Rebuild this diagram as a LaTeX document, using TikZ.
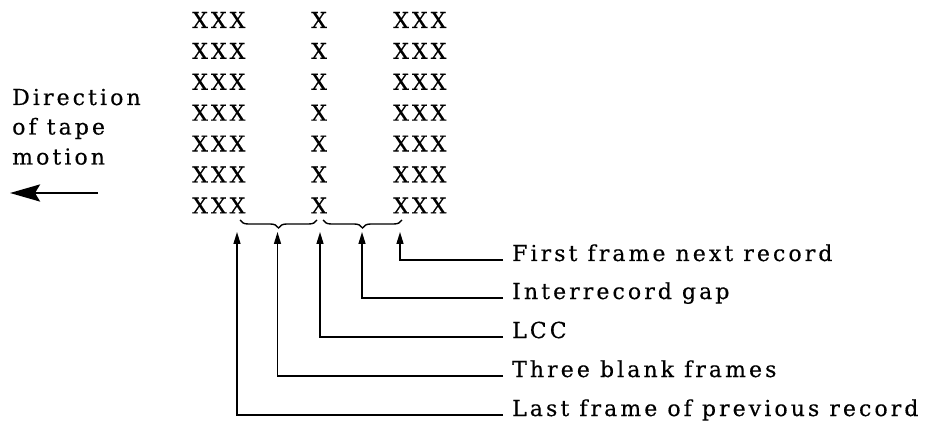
\documentclass[tikz,border=0pt]{standalone}
\usepackage{fontspec}
\setmainfont{DejaVu Serif}[LetterSpace=14,FakeBold=0.4]
\usetikzlibrary{arrows.meta,decorations.pathreplacing}
\newcommand\lbfont{\fontsize{22}{26}\selectfont}
\begin{document}
\begin{tikzpicture}[x=1pt,y=-1pt,
  lbl/.style={inner sep=0pt, anchor=base west, font=\lbfont},
  xs/.style={inner sep=0pt, anchor=base west, font=\lbfont},
  conn/.style={line width=1.4pt, -{Triangle[length=12pt,width=7pt]}},
  brc/.style={line width=1.4pt, decorate, decoration={brace,mirror,amplitude=8pt}},
  bigarrow/.style={line width=2.8pt, -{Stealth[length=30pt,width=17pt,inset=5pt]}}]
\useasboundingbox[fill=white] (0,0) rectangle (925,427);
% frames
\foreach \r in {0,...,6} {
  \node[xs] (L\r) at (192, 28+30.9*\r) {XXX};
  \node[xs] (M\r) at (311, 28+30.9*\r) {X};
  \node[xs] (R\r) at (393, 28+30.9*\r) {XXX};
}
% braces
\draw[brc] (240,220) -- (317,220);
\draw[brc] (323,220) -- (402,220);
% tips
\coordinate (t1) at (237,232);
\coordinate (t2) at (277.5,232);
\coordinate (t3) at (320,232);
\coordinate (t4) at (362,232);
\coordinate (t5) at (400,232);
% labels
\node[lbl] (lab5) at (512,261) {First frame next record};
\node[lbl] (lab4) at (512,299) {Interrecord gap};
\node[lbl] (lab3) at (512,338) {LCC};
\node[lbl] (lab2) at (512,377) {Three blank frames};
\node[lbl] (lab1) at (512,416) {Last frame of previous record};
\foreach \i in {1,...,5}
  \draw[conn] ([xshift=-9pt,yshift=1pt]lab\i.base west) -| (t\i);
% direction
\node[lbl] (dir1) at (12,105) {Direction};
\node[lbl] (dir2) at (12,134.5) {of tape};
\node[lbl] (dir3) at (12,164.5) {motion};
\coordinate (m1) at (98,193);
\coordinate (m0) at (10,193);
\draw[bigarrow] (m1) -- (m0);
\end{tikzpicture}
\end{document}
